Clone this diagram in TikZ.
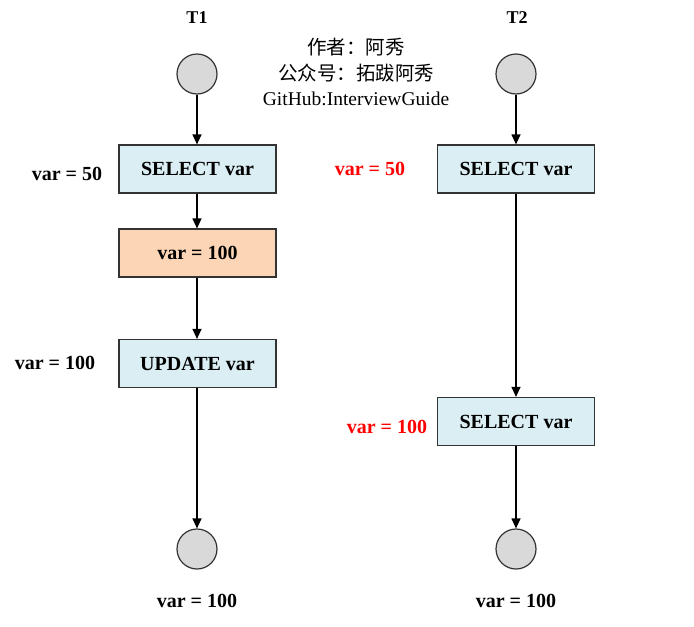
\documentclass[tikz,border=0pt]{standalone}
\usepackage{fontspec}
\setmainfont{Liberation Serif}
\newfontfamily\cjk{Noto Sans CJK SC}
\usetikzlibrary{arrows.meta}
\definecolor{boxblue}{HTML}{DAEEF3}
\definecolor{boxorange}{HTML}{FBD5B5}
\definecolor{circgray}{HTML}{D9D9D9}
\definecolor{edgegray}{HTML}{333333}
\begin{document}
\begin{tikzpicture}[x=1pt,y=-1pt,
  stepbox/.style={draw=edgegray, line width=1.2pt, fill=boxblue, minimum width=157pt, minimum height=48pt, inner sep=0pt, font=\fontsize{20}{22}\selectfont\bfseries},
  circ/.style={circle, draw=edgegray, fill=circgray, minimum size=40pt, inner sep=0pt, line width=1.2pt},
  lbl/.style={inner sep=0pt, font=\fontsize{20}{22}\selectfont\bfseries},
  redlbl/.style={lbl, text=red},
  title/.style={inner sep=0pt, font=\fontsize{18}{20}\selectfont\bfseries},
  arr/.style={-{Triangle[length=10pt,width=9pt]}, line width=1.2pt}]
\useasboundingbox (0,0) rectangle (694,627);
% titles
\node[title] (t1) at (197,18) {T1};
\node[title] (t2) at (517,18) {T2};
% watermark
\node[inner sep=0pt, align=center, font=\fontsize{19.5}{25.5}\selectfont] (wm) at (356,72)
  {{\cjk 作者：阿秀}\\{\cjk 公众号：拓跋阿秀}\\GitHub:InterviewGuide};
% T1 column
\node[circ] (c1) at (197,74) {};
\node[stepbox] (s1) at (197.5,169) {SELECT var};
\node[stepbox, fill=boxorange] (o1) at (197.5,253) {var = 100};
\node[stepbox] (u1) at (197.5,363.5) {UPDATE var};
\node[circ] (e1) at (197,549) {};
% T2 column
\node[circ] (c2) at (516,74) {};
\node[stepbox] (s2) at (516,169) {SELECT var};
\node[stepbox] (s3) at (516,421.5) {SELECT var};
\node[circ] (e2) at (516,549) {};
% labels
\node[lbl] (l1) at (67,174) {var = 50};
\node[lbl] (l2) at (55,363) {var = 100};
\node[redlbl] (l3) at (370,169) {var = 50};
\node[redlbl] (l4) at (387,427) {var = 100};
\node[lbl] (l5) at (197,601) {var = 100};
\node[lbl] (l6) at (516,601) {var = 100};
% arrows
\draw[arr] (c1) -- (s1.north -| c1);
\draw[arr] (s1.south -| c1) -- (o1.north -| c1);
\draw[arr] (o1.south -| c1) -- (u1.north -| c1);
\draw[arr] (u1.south -| c1) -- (e1);
\draw[arr] (c2) -- (s2);
\draw[arr] (s2) -- (s3);
\draw[arr] (s3) -- (e2);
\end{tikzpicture}
\end{document}
